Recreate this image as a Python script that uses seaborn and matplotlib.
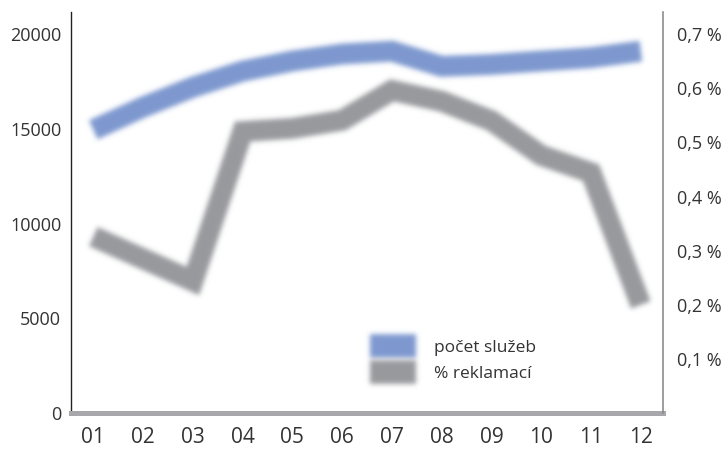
import numpy as np
import pandas as pd
import matplotlib
matplotlib.use("Agg")
import matplotlib.pyplot as plt
from matplotlib.lines import Line2D
from matplotlib.colors import to_rgb
import seaborn as sns

# ---- data ----
months = ["01", "02", "03", "04", "05", "06", "07", "08", "09", "10", "11", "12"]
pocet_sluzeb = [14950, 16150, 17200, 18050, 18580, 18950, 19100, 18300, 18400, 18580, 18760, 19100]
reklamace_pct = [0.326, 0.285, 0.244, 0.520, 0.526, 0.541, 0.596, 0.576, 0.540, 0.476, 0.444, 0.200]
left_ticks = [0, 5000, 10000, 15000, 20000]
right_ticks = [0.1, 0.2, 0.3, 0.4, 0.5, 0.6, 0.7]
right_labels = ["0,1 %", "0,2 %", "0,3 %", "0,4 %", "0,5 %", "0,6 %", "0,7 %"]
series_names = ["počet služeb", "% reklamací"]

BLUE = "#7d98cf"
GRAY = "#98999d"

sns.set_style("white")
plt.rcParams["font.family"] = ["Open Sans", "DejaVu Sans"]


class BlurFilter:
    def __init__(self, color, sigma=2.0):
        self.rgb = np.array(to_rgb(color))
        self.sigma = sigma

    def __call__(self, im, dpi):
        pad = int(np.ceil(self.sigma * 3)) + 2
        a = np.pad(im[:, :, 3], pad, mode="constant")
        r = int(np.ceil(self.sigma * 3))
        xs = np.arange(-r, r + 1)
        k = np.exp(-0.5 * (xs / self.sigma) ** 2)
        k /= k.sum()
        out = np.zeros_like(a)
        for off, w in zip(xs, k):
            out += w * np.roll(a, off, axis=0)
        out2 = np.zeros_like(out)
        for off, w in zip(xs, k):
            out2 += w * np.roll(out, off, axis=1)
        res = np.zeros((a.shape[0], a.shape[1], 4))
        res[:, :, :3] = self.rgb
        res[:, :, 3] = np.clip(out2, 0, 1)
        return res, -pad, -pad


df = pd.DataFrame({
    "x": np.arange(1, len(months) + 1),
    "pocet": pocet_sluzeb,
    "pct": reklamace_pct,
})

fig = plt.figure(figsize=(7.24, 4.5), dpi=100)
ax = fig.add_axes([0.098, 0.082, 0.818, 0.891])
ax2 = ax.twinx()

sns.lineplot(data=df, x="x", y="pct", ax=ax2, color=GRAY, lw=15, legend=False)
sns.lineplot(data=df, x="x", y="pocet", ax=ax, color=BLUE, lw=15, legend=False)

for a_, c in ((ax, BLUE), (ax2, GRAY)):
    for ln in a_.get_lines():
        ln.set_solid_capstyle("butt")
        ln.set_solid_joinstyle("miter")
        ln.set_agg_filter(BlurFilter(c, 2.5))

ymax = 21160
ax.set_ylim(0, ymax)
ax2.set_ylim(0, ymax * 0.7 / 20000)
ax.set_xlim(0.55, 12.45)

ax.set_xticks(df["x"])
ax.set_xticklabels(months)
ax.set_yticks(left_ticks)
ax.set_yticklabels([str(v) for v in left_ticks])
ax2.set_yticks(right_ticks)
ax2.set_yticklabels(right_labels)

ax.set_xlabel("")
ax.set_ylabel("")
ax2.set_ylabel("")

ax.tick_params(axis="x", length=0, pad=10, labelsize=15, colors="#333333")
ax.tick_params(axis="y", length=0, pad=7, labelsize=13, colors="#333333")
ax2.tick_params(axis="y", length=0, pad=10, labelsize=13, colors="#333333")

for s in ("top", "right"):
    ax.spines[s].set_visible(False)
for s in ("top", "left", "bottom"):
    ax2.spines[s].set_visible(False)
ax.spines["left"].set_color("#222222")
ax.spines["left"].set_linewidth(1.0)
ax.spines["bottom"].set_color("#a7a7ac")
ax.spines["bottom"].set_linewidth(3.6)
ax2.spines["right"].set_color("#8c8c90")
ax2.spines["right"].set_linewidth(1.2)

handles = [
    Line2D([], [], color=BLUE, lw=17, solid_capstyle="butt"),
    Line2D([], [], color=GRAY, lw=17, solid_capstyle="butt"),
]
leg = ax2.legend(handles, series_names, loc="upper left", bbox_to_anchor=(0.478, 0.221),
                 frameon=False, fontsize=12.5, handlelength=2.65, handletextpad=1.05,
                 labelspacing=0.55)
for ln, c in zip(leg.get_lines(), (BLUE, GRAY)):
    ln.set_agg_filter(BlurFilter(c, 2.5))
for t in leg.get_texts():
    t.set_color("#333333")

fig.savefig("out.png", dpi=100)
